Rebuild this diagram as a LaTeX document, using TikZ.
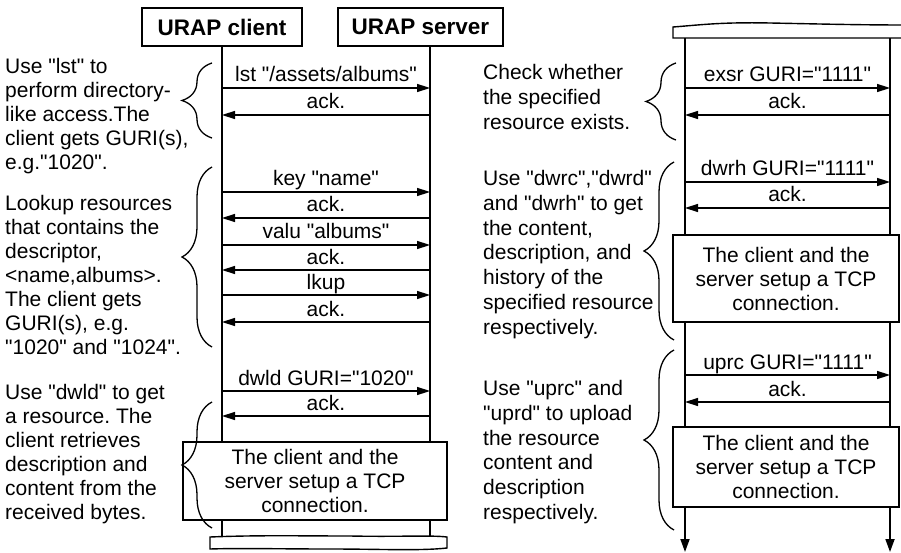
\documentclass[tikz,border=0pt]{standalone}
\usepackage{fontspec}
\newfontfamily\urapfont{Liberation Sans}
\usetikzlibrary{arrows.meta,decorations.pathreplacing}
\frenchspacing

\begin{document}
\begin{tikzpicture}[x=1pt,y=-1pt,
  every node/.style={inner sep=0pt},
  txt/.style={font=\urapfont\fontsize{21}{24}\selectfont},
  lifeline/.style={line width=1.8pt},
  msg/.style={line width=1.5pt,-{Triangle[length=13pt,width=8pt]}},
  msglabel/.style={txt, anchor=base, yshift=6pt},
  header/.style={draw, line width=1.4pt, minimum height=38pt,
    font=\urapfont\fontsize{22.5}{24}\selectfont\bfseries},
  tcpbox/.style={draw, line width=1.4pt, fill=white, align=center, txt},
  note/.style={txt, anchor=north west, align=left},
  notewide/.style={note, font=\urapfont\fontsize{21}{24.8}\selectfont},
  curly/.style={line width=1.3pt, decorate, decoration={brace, amplitude=30pt}},
  torn/.style={draw, line width=1.4pt, fill=white},
]
\useasboundingbox (0,0) rectangle (901,553);

% ---------- left panel: headers and lifelines ----------
\node[header, minimum width=160pt] (hc) at (222,27) {URAP client};
\node[header, minimum width=165pt] (hs) at (420.5,27) {URAP server};
\coordinate (cL) at (222,46);
\coordinate (sL) at (430,46);
\coordinate (cLend) at (222,538);
\coordinate (sLend) at (430,538);
\draw[lifeline] (cL) -- (cLend);
\draw[lifeline] (sL) -- (sLend);

% requests client -> server
\foreach \y/\t in {88/{lst "/assets/albums"}, 192/{key "name"},
                   245/{valu "albums"}, 295/{lkup}, 391/{dwld GURI="1020"}}{
  \draw[msg] (cL |- 0,\y) -- (sL |- 0,\y) node[msglabel, midway] {\t};
}
% replies server -> client
\foreach \y in {115,218,270,322,416}{
  \draw[msg] (sL |- 0,\y) -- (cL |- 0,\y) node[msglabel, midway] {ack.};
}

\node[tcpbox, minimum width=264pt, minimum height=78pt] (tcpA) at (315,481)
  {The client and the\\server setup a TCP\\connection.};

% torn-off end of the left lifelines
\path[torn] (210,537) .. controls (260,535) and (300,536) .. (350,536)
  .. controls (400,537) and (430,535) .. (447,537) -- (447,548)
  .. controls (420,551) and (380,549) .. (330,549)
  .. controls (280,549) and (240,548) .. (210,549) -- cycle;

% ---------- left panel: notes ----------
\draw[curly] (212,138) -- (212,63);
\draw[curly] (212,347) -- (212,167);
\draw[curly] (212,528) -- (212,402);

\node[note] (n1) at (5,58)
  {Use "lst" to\\perform directory-\\like access.The\\client gets GURI(s),\\e.g."1020".};
\node[note] (n2) at (5,195)
  {Lookup resources\\that contains the\\descriptor,\\<name,albums>.\\The client gets\\GURI(s), e.g.\\"1020" and "1024".};
\node[note] (n3) at (5,384)
  {Use "dwld" to get\\a resource. The\\client retrieves\\description and\\content from the\\received bytes.};

% ---------- right panel: continued lifelines ----------
\coordinate (cR) at (685,38);
\coordinate (sR) at (890,38);
\coordinate (cRend) at (685,552);
\coordinate (sRend) at (890,552);
\draw[lifeline, -{Triangle[length=13pt,width=9pt]}] (cR) -- (cRend);
\draw[lifeline, -{Triangle[length=13pt,width=9pt]}] (sR) -- (sRend);

% torn-off start of the right lifelines
\path[torn] (673,38) -- (673,27) .. controls (700,25) and (720,22) .. (770,23)
  .. controls (820,24) and (860,25) .. (905,25) -- (905,38) -- cycle;

\foreach \y/\t in {88/{exsr GURI="1111"}, 182/{dwrh GURI="1111"},
                   375/{uprc GURI="1111"}}{
  \draw[msg] (cR |- 0,\y) -- (sR |- 0,\y) node[msglabel, midway] {\t};
}
\foreach \y in {115,208,402}{
  \draw[msg] (sR |- 0,\y) -- (cR |- 0,\y) node[msglabel, midway] {ack.};
}

\node[tcpbox, minimum width=226pt, minimum height=87pt] (tcpB) at (786,278.5)
  {The client and the\\server setup a TCP\\connection.};
\node[tcpbox, minimum width=226pt, minimum height=80pt] (tcpC) at (786,467)
  {The client and the\\server setup a TCP\\connection.};

% ---------- right panel: notes ----------
\draw[curly] (676,140) -- (676,63);
\draw[curly] (674,340) -- (674,162);
\draw[curly] (674,530) -- (674,350);

\node[notewide] (n4) at (483,64)
  {Check whether\\the specified\\resource exists.};
\node[notewide] (n5) at (483,170)
  {Use "dwrc","dwrd"\\and "dwrh" to get\\the content,\\description, and\\history of the\\specified resource\\respectively.};
\node[notewide] (n6) at (483,380)
  {Use "uprc" and\\"uprd" to upload\\the resource\\content and\\description\\respectively.};
\end{tikzpicture}
\end{document}
